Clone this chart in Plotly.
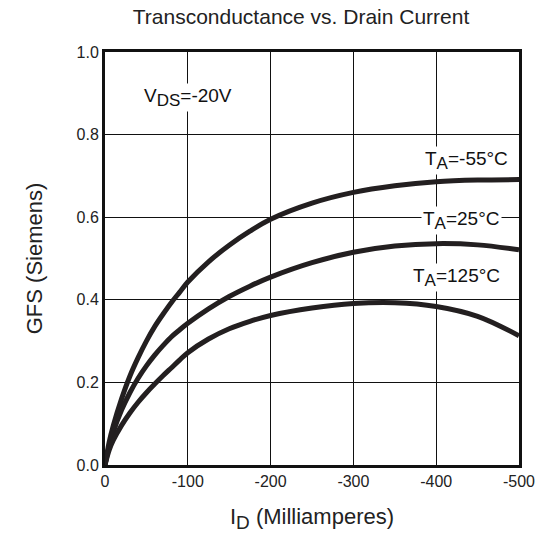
import plotly.graph_objects as go

drain_current = [0, -5, -10, -20, -30, -40, -50, -60, -70, -80, -90, -100,
                 -125, -150, -175, -200, -250, -300, -350, -400, -450, -500]
gfs_m55 = [0, 0.055, 0.095, 0.16, 0.215, 0.26, 0.30, 0.335, 0.365, 0.393, 0.418, 0.443,
           0.492, 0.532, 0.566, 0.595, 0.634, 0.66, 0.676, 0.686, 0.69, 0.691]
gfs_25 = [0, 0.045, 0.08, 0.133, 0.175, 0.21, 0.24, 0.266, 0.289, 0.31, 0.327, 0.343,
          0.378, 0.408, 0.433, 0.455, 0.49, 0.515, 0.53, 0.536, 0.533, 0.521]
gfs_125 = [0, 0.036, 0.06, 0.096, 0.126, 0.152, 0.175, 0.196, 0.216, 0.235, 0.254, 0.272,
           0.305, 0.33, 0.348, 0.362, 0.38, 0.391, 0.393, 0.384, 0.36, 0.313]

x_ticks = [0, -100, -200, -300, -400, -500]
y_ticks = [0.0, 0.2, 0.4, 0.6, 0.8, 1.0]

FONT = "Liberation Sans, Arial, sans-serif"
INK = "#231f20"
SUB = "<sub><span style='font-size:17px'>{}</span></sub>"

fig = go.Figure()
for ys in (gfs_m55, gfs_25, gfs_125):
    fig.add_trace(go.Scatter(x=drain_current, y=ys, mode="lines",
                             line=dict(color=INK, width=5, shape="spline", smoothing=1.0),
                             showlegend=False, hoverinfo="skip"))

ann = [
    ("V" + SUB.format("DS") + "=-20V", -100, 0.891),
    ("T" + SUB.format("A") + "=-55°C", -436, 0.738),
    ("T" + SUB.format("A") + "=25°C", -431, 0.593),
    ("T" + SUB.format("A") + "=125°C", -425, 0.453),
]
for txt, ax, ay in ann:
    fig.add_annotation(x=ax, y=ay, text=txt, showarrow=False,
                       font=dict(family=FONT, size=19, color="#111"),
                       bgcolor="white", borderpad=1)

fig.update_layout(
    width=539, height=535,
    margin=dict(l=105, r=20, t=52, b=70),
    paper_bgcolor="white", plot_bgcolor="white",
    title=dict(text="Transconductance vs. Drain Current", x=0.5585, xanchor="center",
               xref="container", y=0.968, yref="container", yanchor="middle",
               font=dict(family=FONT, size=21, color="#222")),
    font=dict(family=FONT, size=16, color="#222"),
)
fig.update_xaxes(range=[0, -500], tickvals=x_ticks, ticktext=[str(v) for v in x_ticks],
                 showgrid=True, gridcolor="#111", gridwidth=1,
                 showline=True, linecolor="#111", linewidth=3, mirror=True,
                 zeroline=False, ticks="", ticklen=0, automargin=False,
                 title=dict(text="I" + "<sub><span style='font-size:19px'>D</span></sub>" + " (Milliamperes)",
                            font=dict(family=FONT, size=22, color="#222"), standoff=20))
fig.update_yaxes(range=[0, 1.0], tickvals=y_ticks, ticktext=[f"{v:.1f}" for v in y_ticks],
                 showgrid=True, gridcolor="#111", gridwidth=1,
                 showline=True, linecolor="#111", linewidth=3, mirror=True,
                 zeroline=False, ticks="", ticklen=0, automargin=False,
                 title=dict(text="GFS (Siemens)", font=dict(family=FONT, size=22, color="#222"), standoff=28))

fig.write_html("out.html", config={"displayModeBar": False},
               post_script="document.body.style.margin='0px';")
